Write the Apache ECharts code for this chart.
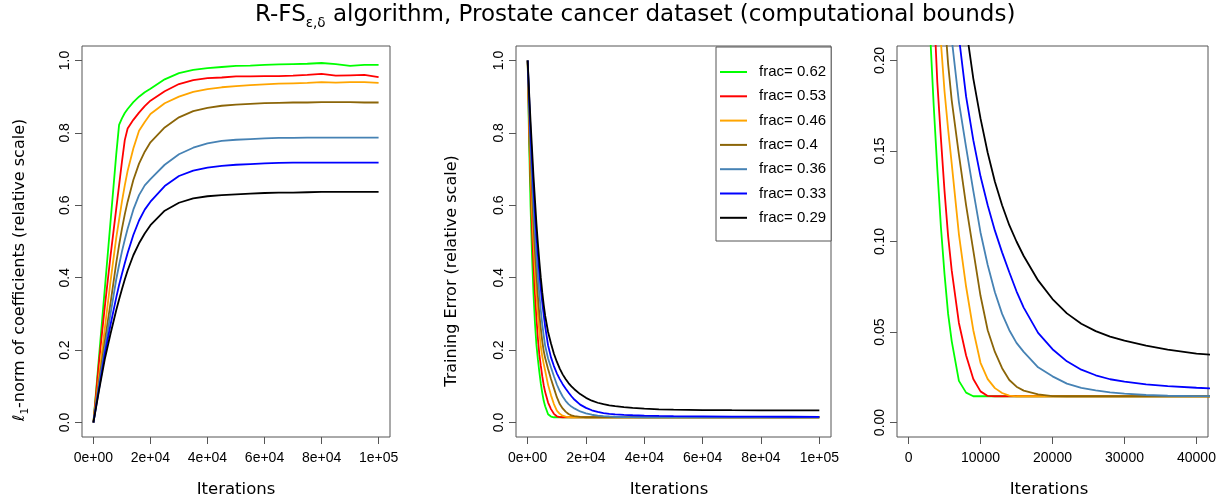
<!DOCTYPE html>
<html>
<head>
<meta charset="utf-8">
<script src="https://cdn.jsdelivr.net/npm/echarts@6/dist/echarts.min.js"></script>
<style>html,body{margin:0;padding:0;background:#fff;}#chart{width:1220px;height:504px;}</style>
</head>
<body>
<div id="chart"></div>
<script>
// ---------- DATA ----------
const fracNames = ['frac= 0.62', 'frac= 0.53', 'frac= 0.46', 'frac= 0.4', 'frac= 0.36', 'frac= 0.33', 'frac= 0.29'];

// Panel 1: l1-norm of coefficients vs iterations
const itersNorm = [0,2000,4000,6000,8000,9000,10000,11000,12000,14000,16000,18000,20000,25000,30000,35000,40000,45000,50000,55000,60000,65000,70000,75000,80000,85000,90000,95000,100000];
const norm062 = [0,0.185,0.37,0.555,0.74,0.822,0.84,0.855,0.866,0.885,0.9,0.912,0.922,0.948,0.965,0.974,0.979,0.982,0.985,0.986,0.988,0.989,0.99,0.991,0.993,0.99,0.985,0.988,0.988];
const norm053 = [0,0.17,0.32,0.46,0.59,0.655,0.72,0.78,0.812,0.836,0.856,0.874,0.889,0.915,0.935,0.946,0.951,0.953,0.956,0.956,0.957,0.957,0.958,0.96,0.963,0.958,0.959,0.96,0.954];
const norm046 = [0,0.13,0.26,0.39,0.51,0.56,0.61,0.655,0.695,0.757,0.806,0.83,0.852,0.882,0.9,0.913,0.921,0.926,0.929,0.932,0.934,0.936,0.937,0.938,0.94,0.939,0.94,0.94,0.938];
const norm040 = [0,0.115,0.225,0.33,0.44,0.49,0.535,0.575,0.61,0.67,0.715,0.748,0.774,0.815,0.843,0.86,0.869,0.875,0.878,0.88,0.882,0.883,0.884,0.884,0.885,0.885,0.885,0.884,0.884];
const norm036 = [0,0.105,0.205,0.3,0.395,0.435,0.472,0.505,0.535,0.588,0.628,0.655,0.672,0.712,0.741,0.759,0.771,0.778,0.781,0.783,0.785,0.786,0.786,0.787,0.787,0.787,0.787,0.787,0.787];
const norm033 = [0,0.095,0.19,0.27,0.345,0.38,0.41,0.44,0.468,0.518,0.558,0.588,0.61,0.653,0.681,0.696,0.704,0.709,0.712,0.714,0.716,0.717,0.718,0.718,0.718,0.718,0.718,0.718,0.718];
const norm029 = [0,0.09,0.175,0.245,0.31,0.34,0.368,0.395,0.42,0.462,0.495,0.522,0.545,0.585,0.607,0.619,0.625,0.628,0.63,0.632,0.634,0.635,0.635,0.636,0.637,0.637,0.637,0.637,0.637];

// Panels 2 and 3: training error vs iterations
const itersErr = [0,500,1000,1500,2000,2500,3000,3500,4000,4500,5000,5500,6000,7000,8000,9000,10000,11000,12000,13000,14000,15000,16000,18000,20000,22000,24000,26000,28000,30000,33000,36000,40000,45000,50000,60000,70000,80000,90000,100000];
const err062 = [1,0.77,0.595,0.46,0.355,0.275,0.215,0.175,0.14,0.108,0.082,0.06,0.045,0.023,0.0165,0.0145,0.0145,0.0145,0.0145,0.0145,0.0145,0.0145,0.0145,0.0145,0.0145,0.0145,0.0145,0.0145,0.0145,0.0145,0.0145,0.0145,0.0145,0.0145,0.0145,0.0145,0.0145,0.0145,0.0145,0.0145];
const err053 = [1,0.81,0.66,0.535,0.435,0.355,0.29,0.232,0.188,0.157,0.128,0.103,0.084,0.055,0.037,0.024,0.0172,0.0147,0.0145,0.0145,0.0145,0.0145,0.0145,0.0145,0.0145,0.0145,0.0145,0.0145,0.0145,0.0145,0.0145,0.0145,0.0145,0.0145,0.0145,0.0145,0.0145,0.0145,0.0145,0.0145];
const err046 = [1,0.84,0.705,0.59,0.5,0.42,0.355,0.3,0.25,0.21,0.183,0.162,0.143,0.104,0.075,0.051,0.033,0.024,0.019,0.0163,0.0149,0.0145,0.0145,0.0145,0.0145,0.0145,0.0145,0.0145,0.0145,0.0145,0.0145,0.0145,0.0145,0.0145,0.0145,0.0145,0.0145,0.0145,0.0145,0.0145];
const err040 = [1,0.86,0.74,0.64,0.55,0.475,0.41,0.35,0.3,0.26,0.225,0.198,0.178,0.148,0.12,0.095,0.07,0.051,0.039,0.03,0.0235,0.0198,0.0176,0.0155,0.0146,0.0145,0.0145,0.0145,0.0145,0.0145,0.0145,0.0145,0.0145,0.0145,0.0145,0.0145,0.0145,0.0145,0.0145,0.0145];
const err036 = [1,0.88,0.77,0.68,0.6,0.525,0.46,0.405,0.355,0.31,0.272,0.24,0.212,0.177,0.152,0.128,0.105,0.087,0.072,0.06,0.051,0.044,0.039,0.0305,0.0255,0.0215,0.0192,0.0178,0.0167,0.016,0.0152,0.0148,0.0146,0.0145,0.0145,0.0145,0.0145,0.0145,0.0145,0.0145];
const err033 = [1,0.9,0.8,0.72,0.645,0.578,0.517,0.462,0.413,0.37,0.332,0.297,0.265,0.213,0.18,0.156,0.136,0.12,0.106,0.094,0.083,0.0725,0.0635,0.0495,0.0405,0.0338,0.0292,0.0261,0.0239,0.0226,0.0211,0.0201,0.0192,0.0184,0.0178,0.017,0.0165,0.0162,0.016,0.0158];
const err029 = [1,0.91,0.83,0.755,0.68,0.615,0.55,0.495,0.445,0.4,0.36,0.325,0.295,0.25,0.218,0.19,0.168,0.149,0.133,0.12,0.109,0.1,0.092,0.0785,0.0682,0.0603,0.0546,0.0505,0.0475,0.0452,0.0425,0.0403,0.0381,0.0365,0.0355,0.0345,0.034,0.0338,0.0336,0.0335];

// Tick labels
const xTickVals = [0,20000,40000,60000,80000,100000];
const xTickLabels = ['0e+00','2e+04','4e+04','6e+04','8e+04','1e+05'];
const x3TickVals = [0,10000,20000,30000,40000];
const x3TickLabels = ['0','10000','20000','30000','40000'];
const yTickVals = [0,0.2,0.4,0.6,0.8,1.0];
const yTickLabels = ['0.0','0.2','0.4','0.6','0.8','1.0'];
const y3TickVals = [0,0.05,0.1,0.15,0.2];
const y3TickLabels = ['0.00','0.05','0.10','0.15','0.20'];

// ---------- STYLE ----------
const colors = ['#00FF00','#FF0000','#FFA500','#8B6508','#4682B4','#0000FF','#000000'];
const normSets = [norm062, norm053, norm046, norm040, norm036, norm033, norm029];
const errSets = [err062, err053, err046, err040, err036, err033, err029];
const tickFont = "'Liberation Sans', Arial, sans-serif";
const titleFont = "'DejaVu Sans', sans-serif";
const boxColor = '#555';

function fmt(vals, labels) {
  return function (v) {
    for (let i = 0; i < vals.length; i++) if (Math.abs(vals[i] - v) < 1e-9) return labels[i];
    return '';
  };
}
function xAx(grid, min, max, vals, labels) {
  return {
    gridIndex: grid, type: 'value', min: min, max: max, position: 'bottom',
    axisLine: { show: false, onZero: false }, splitLine: { show: false },
    axisTick: { show: true, inside: false, customValues: vals, length: 7, lineStyle: { color: boxColor, width: 1 } },
    axisLabel: { customValues: vals, formatter: fmt(vals, labels), margin: 14,
      fontFamily: tickFont, fontSize: 14, color: '#000', hideOverlap: false, showMinLabel: true, showMaxLabel: true }
  };
}
function yAx(grid, min, max, vals, labels) {
  return {
    gridIndex: grid, type: 'value', min: min, max: max, position: 'left',
    axisLine: { show: false, onZero: false }, splitLine: { show: false },
    axisTick: { show: true, inside: false, customValues: vals, length: 7, lineStyle: { color: boxColor, width: 1 } },
    axisLabel: { customValues: vals, formatter: fmt(vals, labels), margin: 10, rotate: 90,
      fontFamily: tickFont, fontSize: 14, color: '#000', hideOverlap: false, showMinLabel: true, showMaxLabel: true }
  };
}

const series = [];
for (let k = 0; k < 7; k++) {
  series.push({ name: fracNames[k], type: 'line', xAxisIndex: 0, yAxisIndex: 0, symbol: 'none', animation: false,
    lineStyle: { color: colors[k], width: 1.8 }, itemStyle: { color: colors[k] },
    data: itersNorm.map((x, i) => [x, normSets[k][i]]) });
}
for (let k = 0; k < 7; k++) {
  series.push({ name: fracNames[k], type: 'line', xAxisIndex: 1, yAxisIndex: 1, symbol: 'none', animation: false,
    lineStyle: { color: colors[k], width: 1.8 }, itemStyle: { color: colors[k] },
    data: itersErr.map((x, i) => [x, errSets[k][i]]) });
}
for (let k = 0; k < 7; k++) {
  series.push({ name: fracNames[k], type: 'line', xAxisIndex: 2, yAxisIndex: 2, symbol: 'none', animation: false, clip: true,
    lineStyle: { color: colors[k], width: 1.8 }, itemStyle: { color: colors[k] },
    data: itersErr.map((x, i) => [x, errSets[k][i]]) });
}

const gridBase = { show: true, borderColor: boxColor, borderWidth: 1, backgroundColor: 'transparent' };

const option = {
  backgroundColor: '#fff',
  animation: false,
  title: {
    text: '{a|R-FS}{s|ε,δ}{a| algorithm, Prostate cancer dataset (computational bounds)}',
    left: 255, top: 0, padding: 0,
    textStyle: {
      fontWeight: 'normal',
      rich: {
        a: { fontFamily: titleFont, fontSize: 23, fontWeight: 'normal', color: '#000', lineHeight: 30 },
        s: { fontFamily: titleFont, fontSize: 13.5, fontWeight: 'normal', color: '#000', lineHeight: 14, verticalAlign: 'bottom' }
      }
    }
  },
  grid: [
    Object.assign({ left: 82, top: 46, width: 308, height: 391 }, gridBase),
    Object.assign({ left: 516, top: 46, width: 315, height: 391 }, gridBase),
    Object.assign({ left: 897, top: 46, width: 311, height: 391 }, gridBase)
  ],
  xAxis: [
    xAx(0, -4000, 104000, xTickVals, xTickLabels),
    xAx(1, -4000, 104000, xTickVals, xTickLabels),
    xAx(2, -1600, 41600, x3TickVals, x3TickLabels)
  ],
  yAxis: [
    yAx(0, -0.04, 1.04, yTickVals, yTickLabels),
    yAx(1, -0.04, 1.04, yTickVals, yTickLabels),
    yAx(2, -0.008, 0.208, y3TickVals, y3TickLabels)
  ],
  legend: {
    data: fracNames, orient: 'vertical', left: 716, top: 47,
    padding: [17.5, 5, 15.7, 4], itemWidth: 27, itemHeight: 2, itemGap: 9.3,
    icon: 'rect',
    borderColor: boxColor, borderWidth: 1, borderRadius: 0, backgroundColor: '#fff',
    selectedMode: false,
    textStyle: { fontFamily: tickFont, fontSize: 15, color: '#000', padding: [0, 0, 0, 7] }
  },
  graphic: [
    { type: 'text', x: 236, y: 490, style: { text: 'Iterations', font: "16.5px 'DejaVu Sans', sans-serif", fill: '#000', align: 'center', verticalAlign: 'middle' } },
    { type: 'text', x: 669, y: 490, style: { text: 'Iterations', font: "16.5px 'DejaVu Sans', sans-serif", fill: '#000', align: 'center', verticalAlign: 'middle' } },
    { type: 'text', x: 1049, y: 490, style: { text: 'Iterations', font: "16.5px 'DejaVu Sans', sans-serif", fill: '#000', align: 'center', verticalAlign: 'middle' } },
    { type: 'text', x: 20, y: 270, rotation: Math.PI / 2,
      style: { text: '{a|ℓ}{s|1}{a|-norm of coefficients (relative scale)}', align: 'center', verticalAlign: 'middle', fill: '#000',
        rich: { a: { fontFamily: titleFont, fontSize: 16, lineHeight: 22, fill: '#000' },
                s: { fontFamily: titleFont, fontSize: 10.5, lineHeight: 10, verticalAlign: 'bottom', fill: '#000' } } } },
    { type: 'text', x: 452, y: 271, rotation: Math.PI / 2,
      style: { text: 'Training Error (relative scale)', font: "16px 'DejaVu Sans', sans-serif", fill: '#000', align: 'center', verticalAlign: 'middle' } }
  ],
  series: series
};

const chart = echarts.init(document.getElementById('chart'), null, { renderer: 'canvas' });
chart.setOption(option);
</script>
</body>
</html>
